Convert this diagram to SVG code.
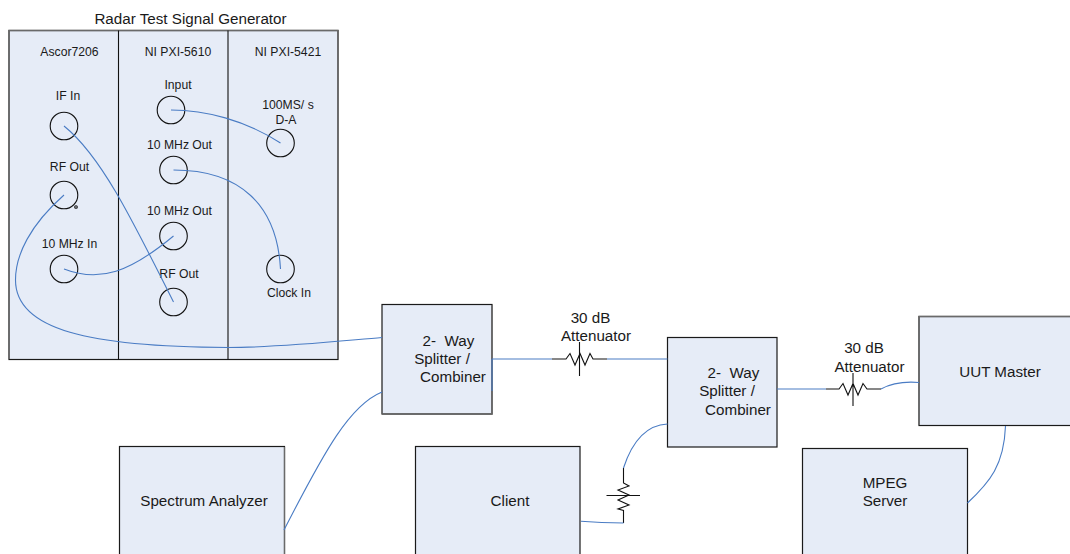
<svg xmlns="http://www.w3.org/2000/svg" width="1070" height="554" viewBox="0 0 1070 554">
<style>
text{font-family:"Liberation Sans",Arial,sans-serif;fill:#1a1a1a;text-anchor:middle;white-space:pre}
.s{font-size:12.2px}.m{font-size:15.2px}.t{font-size:15.2px}
.box{fill:#e6ecf7;stroke:#1a1a1a;stroke-width:1.2}
.port{fill:none;stroke:#111;stroke-width:1.1}
.c{fill:none;stroke:#4a7cc4;stroke-width:1.1}
.k{fill:none;stroke:#111;stroke-width:1.1}
.g{fill:none;stroke:#6a6a6a;stroke-width:1.3}
</style>
<rect width="1070" height="554" fill="#fff"/>
<g id="rack">
<rect class="box" x="9" y="30.500" width="329" height="329"/>
<path class="g" d="M9 359V30.500H338V359"/>
<path class="k" d="M118.500 30.500V359.500M228 30.500V359.500"/>
<text class="t" x="190.500" y="24">Radar Test Signal Generator</text>
<text class="s" x="69.500" y="56">Ascor7206</text>
<text class="s" x="178" y="56">NI PXI-5610</text>
<text class="s" x="288" y="56">NI PXI-5421</text>
</g>
<g id="ports">
<g id="p-if-in"><circle class="port" cx="64" cy="126" r="13.800"/><text class="s" x="68" y="100">IF In</text></g>
<g id="p-rf-out-a"><circle class="port" cx="64" cy="195" r="13.800"/><circle class="port" cx="76" cy="207" r="1.300"/><text class="s" x="69.500" y="171">RF Out</text></g>
<g id="p-10in"><circle class="port" cx="64" cy="269" r="13.800"/><text class="s" x="69.500" y="248">10 MHz In</text></g>
<g id="p-input"><circle class="port" cx="171" cy="110" r="13.800"/><text class="s" x="178" y="89">Input</text></g>
<g id="p-10out-a"><circle class="port" cx="173.500" cy="170" r="13.800"/><text class="s" x="179.500" y="149">10 MHz Out</text></g>
<g id="p-10out-b"><circle class="port" cx="173.500" cy="236" r="13.800"/><text class="s" x="179.500" y="215">10 MHz Out</text></g>
<g id="p-rf-out-b"><circle class="port" cx="173.500" cy="302" r="13.800"/><text class="s" x="179" y="278">RF Out</text></g>
<g id="p-da"><circle class="port" cx="280.500" cy="143" r="13.800"/><text class="s" x="288" y="109">100MS/ s</text><text class="s" x="286" y="124">D-A</text></g>
<g id="p-clock"><circle class="port" cx="280.500" cy="269" r="13.800"/><text class="s" x="289" y="297">Clock In</text></g>
</g>
<g id="splitter1"><rect class="box" x="382" y="304.500" width="110" height="109.500"/><path class="g" d="M492 305V414H382"/><text class="m" x="448.500" y="346">2-  Way</text><text class="m" x="442" y="363.500">Splitter /</text><text class="m" x="453" y="382">Combiner</text></g>
<g id="splitter2"><rect class="box" x="667.500" y="337.500" width="109.500" height="109.500"/><text class="m" x="733.500" y="378">2-  Way</text><text class="m" x="727" y="396">Splitter /</text><text class="m" x="738" y="415">Combiner</text></g>
<g id="uut"><rect class="box" x="919" y="316.500" width="170" height="109"/><path class="g" d="M919 425V316.500H1070"/><text class="m" x="1000" y="377">UUT Master</text></g>
<g id="spectrum"><rect class="box" x="119.500" y="446.500" width="165" height="130"/><path class="g" d="M284.500 447V554"/><text class="m" x="204" y="506">Spectrum Analyzer</text></g>
<g id="client"><rect class="box" x="415.500" y="446.500" width="164.500" height="130"/><text class="m" x="510" y="506">Client</text></g>
<g id="mpeg"><rect class="box" x="802.500" y="448.500" width="165" height="130"/><text class="m" x="885" y="488">MPEG</text><text class="m" x="885" y="506">Server</text></g>
<g id="att1"><text class="m" x="590.500" y="323">30 dB</text><text class="m" x="596" y="341">Attenuator</text><path class="k" d="M552 359H566L570 353.500L575 365L580 353.500L585 365L590 353.500L593 359H607M579.500 342V376"/></g>
<g id="att2"><text class="m" x="864" y="352.500">30 dB</text><text class="m" x="869.500" y="372">Attenuator</text><path class="k" d="M826 389H839L843 383.500L848 395L853 383.500L858 395L863 383.500L867 389H881M853 373V406"/></g>
<g id="att3"><path class="k" d="M623.500 468V483L629 486L618 490L629 495L618 500L629 505L618 509L623.500 510.500V523M606.500 495.500H640"/></g>
<g id="connectors">
<path class="c" d="M171 110C205 110 245 120 280.500 143"/>
<path class="c" d="M173.500 170C240 170 277 205 280.500 269"/>
<path class="c" d="M64 126C100 155 130 215 173.500 302"/>
<path class="c" d="M173.500 236C130 272 100 283 64 269"/>
<path class="c" d="M64 195C30 225 15.500 255 15.500 280C15.500 330 90 347 228 347.500C280 347.500 340 341 382 337.500"/>
<path class="c" d="M492 359H552M607 359H667.500M492 359V391"/>
<path class="c" d="M777 389H826M881 389C890 384 900 381 919 382.500"/>
<path class="c" d="M382 392C350 405 325 450 284 530"/>
<path class="c" d="M667.500 424C645 425 632 442 623.500 468M581 521.300C595 522.500 610 523 623.500 523"/>
<path class="c" d="M1005.500 426C1004 465 990 482 967.500 503"/>
</g>
</svg>
